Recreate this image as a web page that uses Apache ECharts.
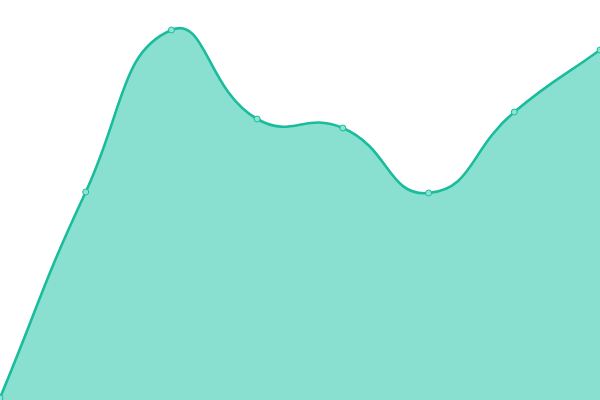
<!DOCTYPE html>
<html><head><meta charset="utf-8">
<script src="https://cdn.jsdelivr.net/npm/echarts@6/dist/echarts.min.js"></script>
<style>html,body{margin:0;padding:0;background:#fff}#c{width:600px;height:400px}</style>
</head><body><div id="c"></div>
<script>
const categories = ['1','2','3','4','5','6','7','8'];
const values = [2, 208, 370, 281, 272, 207, 288, 350];
const tension = 0.5;

function splinePath(pts) {
  // cardinal spline through the projected data points
  const cps = pts.map((p, i) => {
    const p0 = pts[i - 1] || p, p2 = pts[i + 1] || p;
    const d01 = Math.hypot(p[0] - p0[0], p[1] - p0[1]);
    const d12 = Math.hypot(p2[0] - p[0], p2[1] - p[1]);
    const sum = d01 + d12 || 1;
    const fa = tension * d01 / sum, fb = tension * d12 / sum;
    const vx = p2[0] - p0[0], vy = p2[1] - p0[1];
    return {
      prev: [p[0] - fa * vx, p[1] - fa * vy],
      next: [p[0] + fb * vx, p[1] + fb * vy]
    };
  });
  let d = 'M' + pts[0][0] + ' ' + pts[0][1];
  for (let i = 1; i < pts.length; i++) {
    const a = cps[i - 1].next, b = cps[i].prev, p = pts[i];
    d += ' C' + a[0] + ' ' + a[1] + ' ' + b[0] + ' ' + b[1] + ' ' + p[0] + ' ' + p[1];
  }
  return d;
}

const chart = echarts.init(document.getElementById('c'));
chart.setOption({
  animation: false,
  grid: {left: 0, right: 0, top: 0, bottom: 0},
  xAxis: {type: 'category', data: categories, boundaryGap: false, show: false},
  yAxis: {type: 'value', min: 0, max: 400, show: false},
  series: [{
    type: 'custom',
    data: values.map((v, i) => [i, v]),
    renderItem: function (params, api) {
      if (params.dataIndex !== 0) return null;
      const pts = values.map((v, i) => api.coord([i, v]));
      const base = api.coord([0, 0])[1];
      const line = splinePath(pts);
      const last = pts[pts.length - 1];
      const area = line + ' L' + last[0] + ' ' + base + ' L' + pts[0][0] + ' ' + base + ' Z';
      return {
        type: 'group',
        children: [
          {type: 'path', shape: {pathData: area}, style: {fill: '#89e0d0', stroke: null}},
          {type: 'path', shape: {pathData: line}, style: {fill: null, stroke: '#1abc9c', lineWidth: 2.6}}
        ]
      };
    },
    z: 1
  }, {
    type: 'scatter',
    data: values,
    symbol: 'circle',
    symbolSize: 6,
    itemStyle: {color: '#8ee3d2', borderColor: '#1abc9c', borderWidth: 1, opacity: 1},
    z: 2
  }]
});
</script></body></html>
